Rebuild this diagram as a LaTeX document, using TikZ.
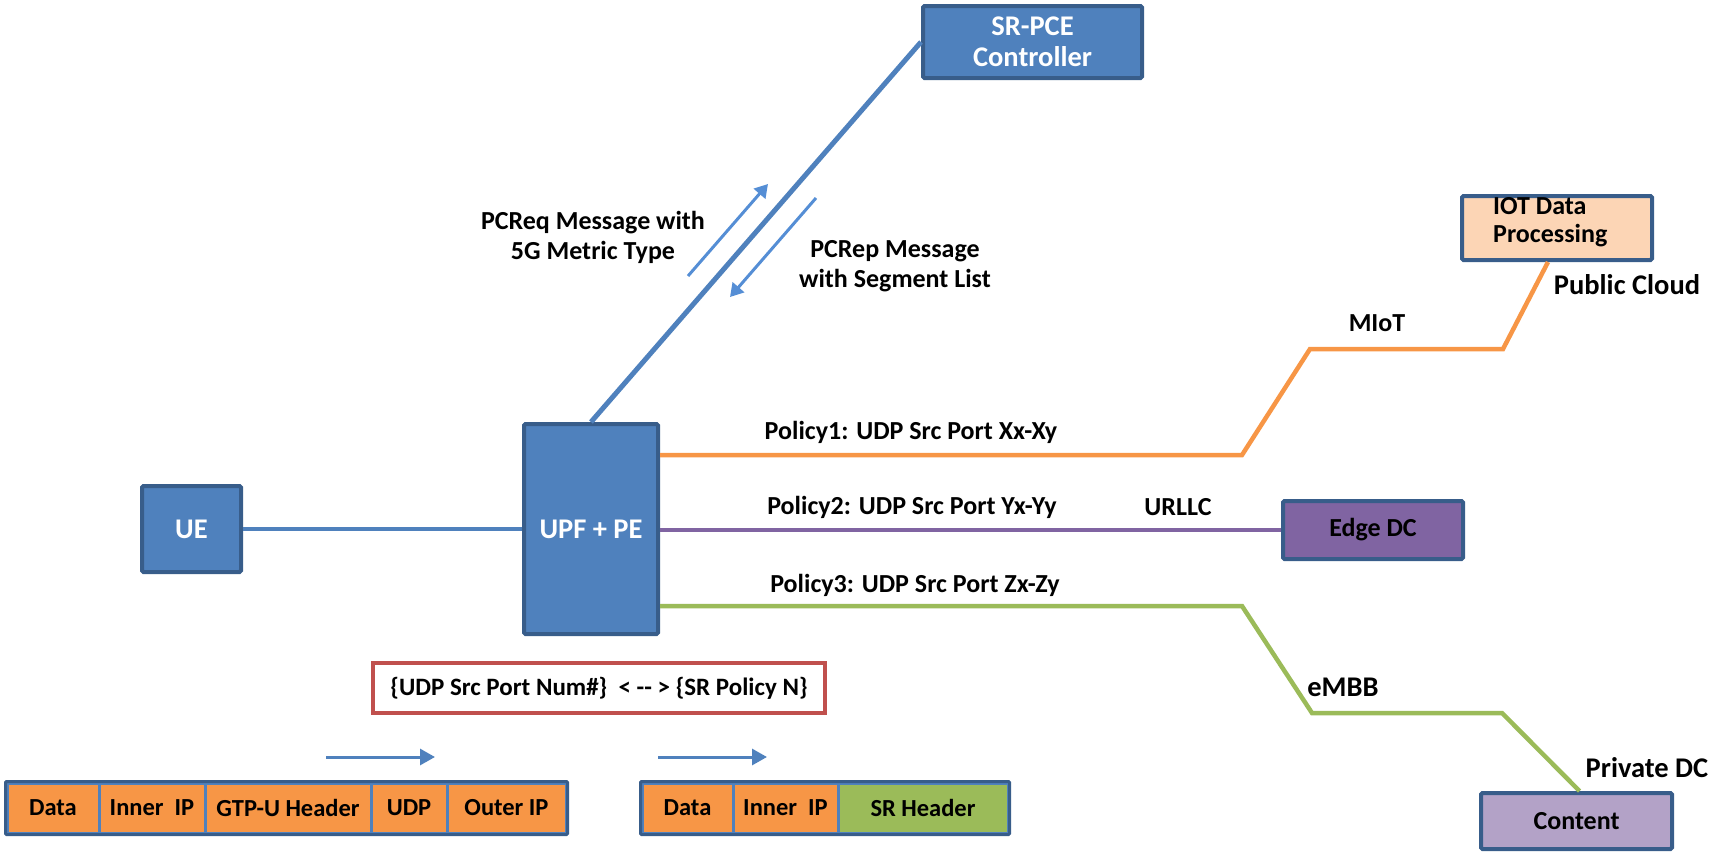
\documentclass[tikz,border=0pt]{standalone}
\usepackage{fontspec}
\setmainfont{Carlito}
\usetikzlibrary{arrows.meta}

\definecolor{blueF}{HTML}{4F81BD}
\definecolor{blueB}{HTML}{385D8A}
\definecolor{arrowB}{HTML}{558ED5}
\definecolor{orangeL}{HTML}{F79646}
\definecolor{purpleL}{HTML}{8064A2}
\definecolor{greenL}{HTML}{9BBB59}
\definecolor{redB}{HTML}{C0504D}
\definecolor{peach}{HTML}{FCD5B5}
\definecolor{lilac}{HTML}{B3A2C7}

\tikzset{
  txt/.style={font=\bfseries\fontsize{26}{30}\selectfont, inner sep=0pt, align=center},
  bigtxt/.style={txt, font=\bfseries\fontsize{28.5}{31}\selectfont},
  box/.style={txt, draw=blueB, line width=4pt, rounded corners=1.5pt},
  bluebox/.style={box, bigtxt, fill=blueF, text=white},
  link/.style={line width=4.5pt, line join=miter},
  msgarrow/.style={draw=arrowB, line width=3pt, -{Triangle[length=13pt,width=15pt]}},
  field/.style={txt, font=\bfseries\fontsize{24.5}{28}\selectfont, draw=blueF, line width=3pt, minimum height=50pt, fill=orangeL},
  frame/.style={draw=blueB, line width=3pt, rounded corners=1pt},
}

\begin{document}
\begin{tikzpicture}[x=1pt, y=-1pt]
\useasboundingbox (0,0) rectangle (1719,854);

% main boxes
\node[bluebox, minimum width=219pt, minimum height=72pt] (pce) at (1032.5,42) {SR-PCE\\Controller};
\node[bluebox, minimum width=99pt, minimum height=86pt] (ue) at (191.5,529) {UE};
\node[bluebox, minimum width=134pt, minimum height=210pt] (upf) at (591,529) {UPF + PE};
\node[box, fill=peach, minimum width=190pt, minimum height=64pt] (iot) at (1557,228) {};
\node[txt, anchor=west, align=left, font=\bfseries\fontsize{26}{28}\selectfont] (iottxt) at (1493,222) {IOT Data\\Processing};
\node[box, fill=purpleL, minimum width=180pt, minimum height=58pt] (edge) at (1373,530) {Edge DC};
\node[box, fill=lilac, minimum width=191pt, minimum height=56pt] (content) at (1576.5,821) {Content};

% access and controller links
\draw[link, blueF, line width=4pt] (ue) -- (upf);
\draw[link, blueF, line width=5pt] (upf.north) -- (pce.west);

% policy paths
\coordinate (o1) at (658,455);
\coordinate (o2) at (1242,455);
\coordinate (o3) at (1310,349);
\coordinate (o4) at (1503,349);
\draw[link, orangeL] (upf.east |- o1) -- (o2) -- (o3) -- (o4) -- ([xshift=-9pt]iot.south);

\draw[link, purpleL] (upf.east |- edge.west) -- (edge.west);

\coordinate (g1) at (658,606);
\coordinate (g2) at (1242,606);
\coordinate (g3) at (1312,713);
\coordinate (g4) at (1502,713);
\draw[link, greenL] (upf.east |- g1) -- (g2) -- (g3) -- (g4) -- ([xshift=3pt]content.north);

% PCEP messages
\coordinate (reqS) at (688,276);
\coordinate (reqE) at (768,184);
\coordinate (repS) at (816,198);
\coordinate (repE) at (730,297);
\draw[msgarrow] (reqS) -- (reqE);
\draw[msgarrow] (repS) -- (repE);
\node[txt] (pcreq) at (593,237) {PCReq Message with\\5G Metric Type};
\node[txt] (pcrep) at (895,266) {PCRep Message\\with Segment List};

% labels
\node[txt] (pol1) at (911,432) {Policy1: UDP Src Port Xx-Xy};
\node[txt] (pol2) at (912,507) {Policy2: UDP Src Port Yx-Yy};
\node[txt] (pol3) at (915,585) {Policy3: UDP Src Port Zx-Zy};
\node[txt] (urllc) at (1178,507) {URLLC};
\node[txt] (miot) at (1377,323) {MIoT};
\node[bigtxt] (pubc) at (1627,285) {Public Cloud};
\node[bigtxt] (embb) at (1343,687) {eMBB};
\node[bigtxt] (privdc) at (1647,768) {Private DC};

% mapping rule
\node[txt, font=\bfseries\fontsize{25}{30}\selectfont, draw=redB, line width=3.5pt, fill=white, minimum width=452pt, minimum height=50pt] (rule) at (599,688)
  {\{UDP Src Port Num\#\}\ \ < {-}{-} > \{SR Policy N\}};

% packet before
\node[field, minimum width=92pt] (pA1) at (53,808) {Data};
\node[field, minimum width=106pt] (pA2) at (152,808) {Inner\ \ IP};
\node[field, minimum width=166pt] (pA3) at (288,808) {GTP-U Header};
\node[field, minimum width=76pt] (pA4) at (409,808) {UDP};
\node[field, minimum width=119pt] (pA5) at (506.5,808) {Outer IP};
\draw[frame] (pA1.north west) rectangle (pA5.south east);

% packet after
\node[field, minimum width=91pt] (pB1) at (687.5,808) {Data};
\node[field, minimum width=105pt] (pB2) at (785.5,808) {Inner\ \ IP};
\node[field, minimum width=170pt, fill=greenL] (pB3) at (923,808) {SR Header};
\draw[frame] (pB1.north west) rectangle (pB3.south east);

% direction arrows
\coordinate (aS) at (326,757);
\coordinate (aE) at (435,757);
\coordinate (bS) at (658,757);
\coordinate (bE) at (767,757);
\draw[msgarrow, draw=blueF, -{Triangle[length=15pt,width=16pt]}] (aS) -- (aE);
\draw[msgarrow, draw=blueF, -{Triangle[length=15pt,width=16pt]}] (bS) -- (bE);
\end{tikzpicture}
\end{document}
